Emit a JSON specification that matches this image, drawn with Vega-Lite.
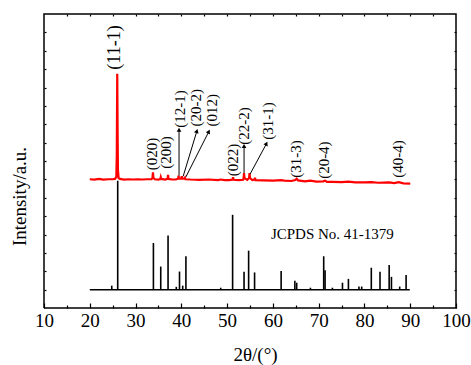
{
  "$schema": "https://vega.github.io/schema/vega-lite/v6.json",
  "width": 412,
  "height": 294,
  "autosize": "none",
  "padding": {"left": 44, "top": 14, "right": 15, "bottom": 57},
  "background": "white",
  "config": {
    "view": {"stroke": null},
    "font": "Liberation Serif",
    "axis": {"grid": false, "domain": false, "tickColor": "black", "tickWidth": 1.2, "labelColor": "black", "titleColor": "black", "labelFont": "Liberation Serif", "titleFont": "Liberation Serif", "titleFontWeight": "normal"}
  },
  "datasets": {
    "red": [
      {"t": 20.0, "i": 43.8}, {"t": 21.0, "i": 43.7}, {"t": 22.0, "i": 43.9}, {"t": 23.0, "i": 43.7},
      {"t": 24.0, "i": 43.8}, {"t": 25.0, "i": 43.8}, {"t": 25.5, "i": 43.9}, {"t": 25.8, "i": 44.6},
      {"t": 25.9, "i": 52}, {"t": 26.0, "i": 79.7}, {"t": 26.08, "i": 60}, {"t": 26.15, "i": 47},
      {"t": 26.3, "i": 44.2}, {"t": 26.6, "i": 43.9}, {"t": 27.5, "i": 43.7}, {"t": 28.5, "i": 43.8},
      {"t": 29.5, "i": 43.7}, {"t": 30.5, "i": 43.8}, {"t": 31.5, "i": 43.7}, {"t": 32.5, "i": 43.8},
      {"t": 33.5, "i": 43.8}, {"t": 33.7, "i": 44.3}, {"t": 33.8, "i": 46.1}, {"t": 33.9, "i": 44.3},
      {"t": 34.2, "i": 43.8}, {"t": 35.0, "i": 43.7}, {"t": 35.4, "i": 43.9}, {"t": 35.5, "i": 44.5},
      {"t": 35.6, "i": 43.9}, {"t": 36.5, "i": 43.7}, {"t": 37.0, "i": 44.0}, {"t": 37.1, "i": 45.3},
      {"t": 37.2, "i": 43.9}, {"t": 38.0, "i": 43.7}, {"t": 38.8, "i": 43.7}, {"t": 39.3, "i": 44.0},
      {"t": 39.4, "i": 45.0}, {"t": 39.5, "i": 44.0}, {"t": 40.0, "i": 44.0}, {"t": 40.1, "i": 44.8},
      {"t": 40.2, "i": 44.0}, {"t": 40.7, "i": 44.0}, {"t": 40.8, "i": 44.3}, {"t": 40.9, "i": 43.8},
      {"t": 42.0, "i": 43.7}, {"t": 44.0, "i": 43.6}, {"t": 46.0, "i": 43.7}, {"t": 48.0, "i": 43.5},
      {"t": 48.6, "i": 43.7}, {"t": 49.5, "i": 43.5}, {"t": 50.5, "i": 43.5}, {"t": 51.2, "i": 43.7},
      {"t": 51.3, "i": 44.5}, {"t": 51.4, "i": 43.6}, {"t": 52.5, "i": 43.5}, {"t": 53.5, "i": 43.6},
      {"t": 53.6, "i": 44.2}, {"t": 53.7, "i": 45.9}, {"t": 53.8, "i": 44.2}, {"t": 54.4, "i": 43.6},
      {"t": 54.8, "i": 44.2}, {"t": 54.9, "i": 45.9}, {"t": 55.0, "i": 44.2}, {"t": 55.5, "i": 43.5},
      {"t": 56.0, "i": 43.7}, {"t": 56.1, "i": 44.3}, {"t": 56.2, "i": 43.5}, {"t": 58.0, "i": 43.4},
      {"t": 60.0, "i": 43.3}, {"t": 61.8, "i": 43.5}, {"t": 62.5, "i": 43.3}, {"t": 64.0, "i": 43.2},
      {"t": 64.9, "i": 43.5}, {"t": 65.2, "i": 44.0}, {"t": 65.5, "i": 43.4}, {"t": 67.0, "i": 43.1},
      {"t": 68.2, "i": 43.3}, {"t": 69.5, "i": 43.0}, {"t": 71.0, "i": 43.1}, {"t": 71.4, "i": 43.3},
      {"t": 71.8, "i": 42.9}, {"t": 73.0, "i": 42.9}, {"t": 75.0, "i": 42.8}, {"t": 76.5, "i": 43.0},
      {"t": 78.0, "i": 42.7}, {"t": 80.0, "i": 42.7}, {"t": 81.5, "i": 42.8}, {"t": 83.0, "i": 42.6},
      {"t": 85.4, "i": 42.7}, {"t": 86.5, "i": 42.5}, {"t": 87.5, "i": 42.8}, {"t": 88.5, "i": 42.4},
      {"t": 90.0, "i": 42.3}
    ],
    "pdf": [
      {"t": 24.8, "i": 7.6}, {"t": 26.1, "i": 43.3}, {"t": 33.9, "i": 22.1}, {"t": 35.5, "i": 14.1},
      {"t": 37.1, "i": 24.7}, {"t": 38.9, "i": 7.2}, {"t": 39.6, "i": 12.4}, {"t": 40.3, "i": 7.6},
      {"t": 41.0, "i": 17.6}, {"t": 48.6, "i": 6.9}, {"t": 51.2, "i": 31.7}, {"t": 53.7, "i": 12.3},
      {"t": 54.7, "i": 19.5}, {"t": 56.0, "i": 12.1}, {"t": 61.8, "i": 12.6}, {"t": 64.8, "i": 9.3},
      {"t": 65.2, "i": 8.6}, {"t": 68.2, "i": 6.9}, {"t": 71.1, "i": 17.6}, {"t": 71.4, "i": 12.8},
      {"t": 73.0, "i": 6.9}, {"t": 75.2, "i": 8.6}, {"t": 76.5, "i": 9.9}, {"t": 78.8, "i": 7.3},
      {"t": 79.4, "i": 7.3}, {"t": 81.5, "i": 13.7}, {"t": 83.4, "i": 12.3}, {"t": 85.4, "i": 14.6},
      {"t": 85.9, "i": 10.6}, {"t": 87.7, "i": 7.3}, {"t": 89.1, "i": 11.2}
    ],
    "base": [{"t": 20.0, "i": 6.2}, {"t": 89.9, "i": 6.2}],
    "box": [
      {"k": 1, "t": 10, "i": 0},
      {"k": 2, "t": 100, "i": 0},
      {"k": 3, "t": 100, "i": 100},
      {"k": 4, "t": 10, "i": 100},
      {"k": 5, "t": 10, "i": 0}
    ],
    "labels": [
      {"hkl": "(11-1)", "t": 25.6, "v": 88.6},
      {"hkl": "(020)", "t": 33.7, "v": 52.4},
      {"hkl": "(200)", "t": 36.7, "v": 52.9},
      {"hkl": "(12-1)", "t": 39.7, "v": 67.7},
      {"hkl": "(20-2)", "t": 43.2, "v": 68.1},
      {"hkl": "(012)", "t": 46.6, "v": 67.3},
      {"hkl": "(022)", "t": 51.2, "v": 50.3},
      {"hkl": "(22-2)", "t": 53.7, "v": 61.9},
      {"hkl": "(31-1)", "t": 59.0, "v": 63.6},
      {"hkl": "(31-3)", "t": 65.0, "v": 50.7},
      {"hkl": "(20-4)", "t": 71.1, "v": 50.3},
      {"hkl": "(40-4)", "t": 87.4, "v": 50.7}
    ],
    "arrows": [
      {"hkl": "(12-1)", "x1": 39.5, "y1": 45.0, "x2": 39.5, "y2": 60.6},
      {"hkl": "(20-2)", "x1": 40.4, "y1": 44.8, "x2": 43.4, "y2": 60.2},
      {"hkl": "(012)", "x1": 41.0, "y1": 44.6, "x2": 46.0, "y2": 60.0},
      {"hkl": "(22-2)", "x1": 53.7, "y1": 45.9, "x2": 53.7, "y2": 55.1},
      {"hkl": "(31-1)", "x1": 55.0, "y1": 45.5, "x2": 58.6, "y2": 55.9}
    ],
    "note": [{"text": "JCPDS No. 41-1379", "t": 73.0, "v": 25.2}]
  },
  "resolve": {"axis": {"x": "independent", "y": "independent"}},
  "layer": [
    {
      "data": {"name": "red"},
      "mark": {"type": "line", "color": "#ff0000", "strokeWidth": 2.2, "interpolate": "linear"},
      "encoding": {
        "x": {"field": "t", "type": "quantitative", "scale": {"domain": [10, 100], "nice": false, "zero": false},
              "axis": {"orient": "bottom", "values": [10, 20, 30, 40, 50, 60, 70, 80, 90, 100], "tickSize": -5, "labelFontSize": 19, "labelPadding": 8, "labelFlush": false, "labelOverlap": false,
                       "title": "2θ/(°)", "titleFontSize": 19, "titleX": 211, "titleY": 52.7, "titleBaseline": "alphabetic", "titleAlign": "center"}},
        "y": {"field": "i", "type": "quantitative", "scale": {"domain": [0, 100], "nice": false, "zero": false},
              "axis": {"orient": "left", "values": [6.25, 12.5, 18.75, 25, 31.25, 37.5, 43.75, 50, 56.25, 62.5, 68.75, 75, 81.25, 87.5, 93.75], "tickSize": -2, "labels": false,
                       "title": "Intensity/a.u.", "titleFontSize": 19, "titleAngle": 270, "titleX": -18.5, "titleY": 182, "titleBaseline": "alphabetic", "titleAlign": "center"}}
      }
    },
    {
      "data": {"name": "pdf"},
      "mark": {"type": "rule", "color": "black", "strokeWidth": 1.6},
      "encoding": {
        "x": {"field": "t", "type": "quantitative",
              "axis": {"orient": "bottom", "values": [15, 25, 35, 45, 55, 65, 75, 85, 95], "tickSize": -3, "labels": false, "title": null}},
        "y": {"field": "i", "type": "quantitative",
              "axis": {"orient": "right", "values": [6.25, 12.5, 18.75, 25, 31.25, 37.5, 43.75, 50, 56.25, 62.5, 68.75, 75, 81.25, 87.5, 93.75], "tickSize": -2, "labels": false, "title": null}},
        "y2": {"datum": 6.2}
      }
    },
    {
      "data": {"name": "base"},
      "mark": {"type": "line", "color": "black", "strokeWidth": 1.6},
      "encoding": {
        "x": {"field": "t", "type": "quantitative", "axis": null},
        "y": {"field": "i", "type": "quantitative", "axis": null}
      }
    },
    {
      "data": {"name": "box"},
      "mark": {"type": "line", "color": "black", "strokeWidth": 1.5, "strokeJoin": "miter"},
      "encoding": {
        "x": {"field": "t", "type": "quantitative", "axis": null},
        "y": {"field": "i", "type": "quantitative", "axis": null},
        "order": {"field": "k", "type": "quantitative"}
      }
    },
    {
      "data": {"name": "labels"},
      "transform": [{"filter": "datum.hkl !== '(11-1)'"}],
      "mark": {"type": "text", "angle": 270, "align": "center", "baseline": "middle", "fontSize": 15, "font": "Liberation Serif", "color": "black"},
      "encoding": {
        "x": {"field": "t", "type": "quantitative",
              "axis": {"orient": "top", "values": [15, 20, 25, 30, 35, 40, 45, 50, 55, 60, 65, 70, 75, 80, 85, 90, 95], "tickSize": -2, "labels": false, "title": null}},
        "y": {"field": "v", "type": "quantitative", "axis": null},
        "text": {"field": "hkl"}
      }
    },
    {
      "data": {"name": "labels"},
      "transform": [{"filter": "datum.hkl === '(11-1)'"}],
      "mark": {"type": "text", "angle": 270, "align": "center", "baseline": "middle", "fontSize": 18, "font": "Liberation Serif", "color": "black"},
      "encoding": {
        "x": {"field": "t", "type": "quantitative", "axis": null},
        "y": {"field": "v", "type": "quantitative", "axis": null},
        "text": {"field": "hkl"}
      }
    },
    {
      "data": {"name": "note"},
      "mark": {"type": "text", "align": "center", "baseline": "middle", "fontSize": 15, "font": "Liberation Serif", "color": "black"},
      "encoding": {
        "x": {"field": "t", "type": "quantitative", "axis": null},
        "y": {"field": "v", "type": "quantitative", "axis": null},
        "text": {"field": "text"}
      }
    },
    {
      "data": {"name": "arrows"},
      "mark": {"type": "rule", "color": "black", "strokeWidth": 1},
      "encoding": {
        "x": {"field": "x1", "type": "quantitative", "axis": null},
        "y": {"field": "y1", "type": "quantitative", "axis": null},
        "x2": {"field": "x2"},
        "y2": {"field": "y2"}
      }
    },
    {
      "data": {"name": "arrows"},
      "transform": [{"filter": "datum.x1 === datum.x2"}],
      "mark": {"type": "point", "shape": "triangle-up", "filled": true, "color": "black", "opacity": 1, "size": 22, "angle": 0},
      "encoding": {
        "x": {"field": "x2", "type": "quantitative", "axis": null},
        "y": {"field": "y2", "type": "quantitative", "axis": null}
      }
    },
    {
      "data": {"name": "arrows"},
      "transform": [{"filter": "datum.hkl === '(20-2)'"}],
      "mark": {"type": "point", "shape": "triangle-up", "filled": true, "color": "black", "opacity": 1, "size": 22, "angle": 17},
      "encoding": {
        "x": {"field": "x2", "type": "quantitative", "axis": null},
        "y": {"field": "y2", "type": "quantitative", "axis": null}
      }
    },
    {
      "data": {"name": "arrows"},
      "transform": [{"filter": "datum.hkl === '(012)' || datum.hkl === '(31-1)'"}],
      "mark": {"type": "point", "shape": "triangle-up", "filled": true, "color": "black", "opacity": 1, "size": 22, "angle": 27.5},
      "encoding": {
        "x": {"field": "x2", "type": "quantitative", "axis": null},
        "y": {"field": "y2", "type": "quantitative", "axis": null}
      }
    }
  ]
}
